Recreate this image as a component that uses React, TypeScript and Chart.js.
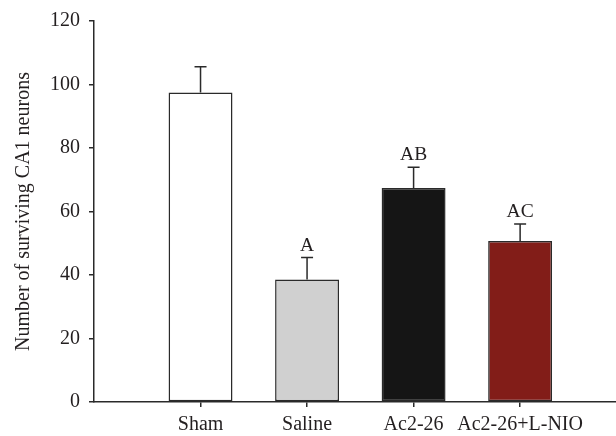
import React, { useEffect, useRef } from "react";
import { Chart, registerables } from "chart.js";

Chart.register(...registerables);

const categories = ["Sham", "Saline", "Ac2-26", "Ac2-26+L-NIO"];
const means = [97.5, 38.6, 67.4, 50.7];
const sems = [8.1, 6.9, 6.5, 5.4];
const letters = ["", "A", "AB", "AC"];
const barColors = ["#ffffff", "#d0d0d0", "#151515", "#821d18"];
const yTicks = [0, 20, 40, 60, 80, 100, 120];
const yTitle = "Number of surviving CA1 neurons";

const FONT = "'Liberation Serif', 'DejaVu Serif', serif";
const TEXT = "#231f20";
const AXIS = "#2a2a2a";

const errorPlugin = {
  id: "errorBarsLetters",
  afterDatasetsDraw(chart: any) {
    const { ctx, scales } = chart;
    const xs = scales.x;
    const ys = scales.y;
    ctx.save();
    ctx.strokeStyle = AXIS;
    ctx.lineWidth = 1.5;
    ctx.fillStyle = TEXT;
    ctx.font = `19.5px ${FONT}`;
    ctx.textAlign = "center";
    ctx.textBaseline = "alphabetic";
    categories.forEach((_, i) => {
      const x = xs.getPixelForValue(i + 1);
      const yTop = ys.getPixelForValue(means[i]);
      const yErr = ys.getPixelForValue(means[i] + sems[i]);
      ctx.beginPath();
      ctx.moveTo(x, yTop);
      ctx.lineTo(x, yErr);
      ctx.moveTo(x - 6, yErr);
      ctx.lineTo(x + 6, yErr);
      ctx.stroke();
      if (letters[i]) ctx.fillText(letters[i], x, yErr - 7);
    });
    ctx.restore();
  },
};

export default function App() {
  const ref = useRef<HTMLCanvasElement | null>(null);
  useEffect(() => {
    if (!ref.current) return;
    const chart = new Chart(ref.current, {
      type: "bar",
      data: {
        datasets: [
          {
            data: categories.map((c, i) => ({ x: i + 1, y: means[i] })) as any,
            backgroundColor: barColors,
            borderColor: AXIS,
            borderWidth: 1.5,
            borderSkipped: false,
            barPercentage: 0.6,
            categoryPercentage: 1,
          },
        ],
      },
      options: {
        responsive: false,
        animation: false,
        layout: { padding: { top: 20, left: 0, right: 0, bottom: 0 } },
        plugins: { legend: { display: false }, tooltip: { enabled: false } },
        scales: {
          x: {
            type: "linear",
            min: 0,
            max: 4.9,
            offset: false,
            afterBuildTicks: (s: any) => {
              s.ticks = categories.map((c, i) => ({ value: i + 1 }));
            },
            afterFit: (s: any) => {
              s.height = 34;
            },
            ticks: {
              autoSkip: false,
              maxRotation: 0,
              padding: 6,
              color: TEXT,
              font: { family: FONT, size: 20 },
              callback: (v: any) => categories[Number(v) - 1] ?? "",
            },
            grid: { drawOnChartArea: false, offset: false, tickLength: 5, color: AXIS, lineWidth: 1.5 },
            border: { color: AXIS, width: 1.5 },
          },
          y: {
            min: 0,
            max: 120,
            afterBuildTicks: (s: any) => {
              s.ticks = yTicks.map((v) => ({ value: v }));
            },
            afterFit: (s: any) => {
              s.width = 94;
            },
            ticks: {
              padding: 9,
              color: TEXT,
              font: { family: FONT, size: 20 },
            },
            grid: { drawOnChartArea: false, tickLength: 5, color: AXIS, lineWidth: 1.5 },
            border: { color: AXIS, width: 1.5 },
            title: {
              display: true,
              text: yTitle,
              color: TEXT,
              font: { family: FONT, size: 20 },
              padding: { top: 12, bottom: 0 },
            },
          },
        },
      } as any,
      plugins: [errorPlugin],
    });
    return () => chart.destroy();
  }, []);
  return (
    <div style={{ position: "absolute", left: 0, top: 0, width: 616, height: 436 }}>
      <canvas ref={ref} width={616} height={436} style={{ width: 616, height: 436 }} />
    </div>
  );
}
